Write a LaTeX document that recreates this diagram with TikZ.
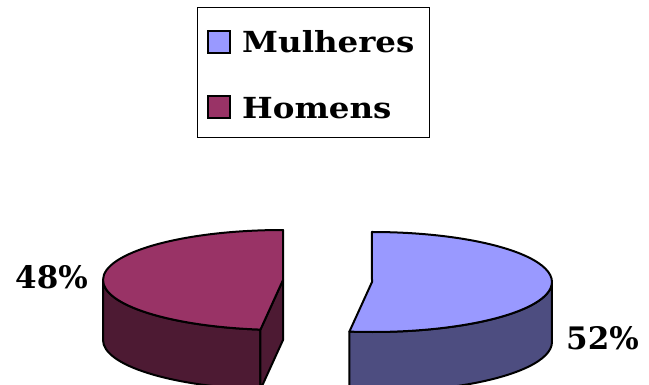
\documentclass[tikz,border=0pt]{standalone}
\usepackage{fontspec}
\setmainfont{DejaVu Serif}
\newfontfamily\legfont[FakeStretch=1.12]{DejaVu Serif Bold}
\definecolor{mulTop}{HTML}{9999FF}
\definecolor{mulSide}{HTML}{4D4D80}
\definecolor{homTop}{HTML}{993366}
\definecolor{homSide}{HTML}{4D1A33}
\begin{document}
\begin{tikzpicture}[x=1pt,y=1pt,
  piece/.style={draw=black,line width=2pt,line join=round},
  swatch/.style={draw=black,line width=1.8pt},
  legtext/.style={anchor=base west,inner sep=0pt,font=\legfont\fontsize{29}{29}\selectfont},
  pct/.style={anchor=base west,inner sep=0pt,font=\bfseries\fontsize{31}{31}\selectfont}]
\useasboundingbox (0,0) rectangle (649,384);
\clip (0,0) rectangle (649,384);
% legend
\draw[line width=0.8pt] (197,247) rectangle (429,377);
\draw[swatch,fill=mulTop] (208,331) rectangle (230,353);
\draw[swatch,fill=homTop] (208,266) rectangle (230,288);
\node[legtext] (lm) at (242,331) {Mulheres};
\node[legtext] (lh) at (242,266) {Homens};
% left slice (Homens)
\def\ra{180}\def\rb{50}
\draw[piece,fill=homSide] (103,104) arc[start angle=180,end angle=262.8,x radius=\ra,y radius=\rb] -- ++(0,-60) arc[start angle=262.8,end angle=180,x radius=\ra,y radius=\rb] -- cycle;
\draw[piece,fill=homSide] (283,104) -- (260.4,54.4) -- (260.4,-5.6) -- (283,44) -- cycle;
\draw[piece,fill=homTop] (283,104) -- (283,154) arc[start angle=90,end angle=262.8,x radius=\ra,y radius=\rb] -- cycle;
% right slice (Mulheres)
\draw[piece,fill=mulSide] (349.4,52.4) arc[start angle=-97.2,end angle=0,x radius=\ra,y radius=\rb] -- ++(0,-60) arc[start angle=0,end angle=-97.2,x radius=\ra,y radius=\rb] -- cycle;
\draw[piece,fill=mulTop] (372,102) -- (349.4,52.4) arc[start angle=-97.2,end angle=90,x radius=\ra,y radius=\rb] -- cycle;
% labels
\node[pct] (p48) at (15,96) {48\%};
\node[pct] (p52) at (566,35) {52\%};
\end{tikzpicture}
\end{document}
